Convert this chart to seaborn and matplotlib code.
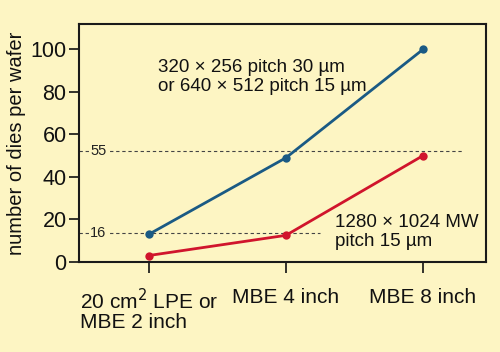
import matplotlib
matplotlib.use('Agg')
import matplotlib.pyplot as plt
import seaborn as sns
import pandas as pd

# data
substrates = ['20 cm$^2$ LPE or\nMBE 2 inch', 'MBE 4 inch', 'MBE 8 inch']
small_pitch = [13, 49, 100]   # 320x256 / 640x512
large_array = [3, 12.5, 50]   # 1280x1024 MW
ref_levels = [52, 13.5]
ref_labels = ['55', '16']
ref_ends = [2.3, 1.25]

bg = '#fdf5c3'
blue = '#1a5a84'
red = '#d0142c'
ink = '#111111'

sns.set_theme(style='ticks')
plt.rcParams['font.family'] = ['Liberation Sans', 'DejaVu Sans']
plt.rcParams['text.color'] = ink
plt.rcParams['xtick.color'] = ink
plt.rcParams['ytick.color'] = ink
plt.rcParams['axes.labelcolor'] = ink

df = pd.DataFrame({
    'x': list(range(3)) * 2,
    'dies': small_pitch + large_array,
    'series': ['small'] * 3 + ['large'] * 3,
})

fig = plt.figure(figsize=(5, 3.52), dpi=100, facecolor=bg)
ax = fig.add_axes([0.158, 0.256, 0.814, 0.676])
ax.set_facecolor(bg)

sns.lineplot(data=df, x='x', y='dies', hue='series', palette={'small': blue, 'large': red},
             marker='o', markersize=6, markeredgewidth=0, linewidth=2, legend=False, ax=ax)

for lvl, lab, end in zip(ref_levels, ref_labels, ref_ends):
    ax.plot([-0.51, end], [lvl, lvl], ls=(0, (3, 2.5)), color='#444444', lw=0.8, zorder=1)
    ax.text(-0.43, lvl, lab, fontsize=10.5, va='center', ha='left', color='#222222',
            bbox=dict(facecolor=bg, edgecolor='none', pad=1))

ax.text(0.07, 87, '320 × 256 pitch 30 µm\nor 640 × 512 pitch 15 µm', fontsize=13.5,
        va='center', ha='left', linespacing=1.2)
ax.text(1.36, 14, '1280 × 1024 MW\npitch 15 µm', fontsize=13.5,
        va='center', ha='left', linespacing=1.2)

ax.set_xlim(-0.51, 2.46)
ax.set_ylim(0, 112)
ax.set_xticks(range(3))
ax.set_xticklabels(substrates, fontsize=15, multialignment='left', linespacing=1.0)
ax.set_yticks(range(0, 101, 20))
ax.tick_params(axis='y', labelsize=15.5, length=7, width=1.2, pad=2)
ax.tick_params(axis='x', length=8, width=1.2, pad=11)
ax.set_xlabel('')
ax.set_ylabel('number of dies per wafer', fontsize=14.5, labelpad=3)
for s in ax.spines.values():
    s.set_linewidth(1.5)
    s.set_color('#1a1a1a')

fig.savefig('out.png', dpi=100, facecolor=bg)
